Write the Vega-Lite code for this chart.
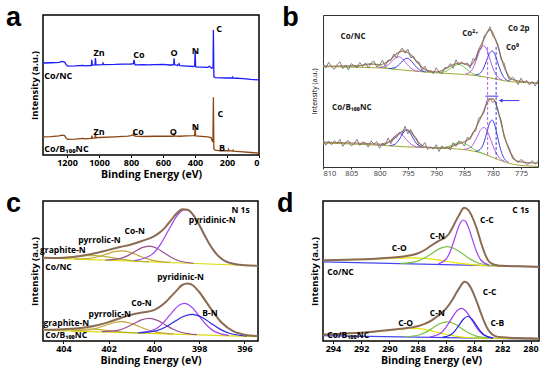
{
"$schema":"https://vega.github.io/schema/vega-lite/v6.json",
"background":"white",
"padding":{"left":5,"top":3,"right":0,"bottom":0},
"columns":2,
"spacing":{"row":34,"column":64},
"bounds":"flush",
"resolve":{"scale":{"color":"independent"}},
"config":{
 "view":{"stroke":"black","strokeWidth":1.5},
 "font":"Open Sans",
 "axis":{"domain":false,"grid":false,"tickColor":"black","labelColor":"black","titleColor":"black","labelFontWeight":"bold","titleFontWeight":"bold","labelFontSize":9,"titleFontSize":10.5,"tickSize":2.5,"labelPadding":0.5,"titlePadding":2.5,"labelFont":"Open Sans","titleFont":"Open Sans"},
 "axisY":{"labels":false,"ticks":false,"titlePadding":4,"titleFontSize":9.5}
},
"concat":[
{
 "width":216,"height":140,
 "data":{"values":[
{"e":1350,"v":65.7,"s":"u"},{"e":1300,"v":65.9,"s":"u"},{"e":1250,"v":66.2,"s":"u"},{"e":1230,"v":66.8,"s":"u"},{"e":1215,"v":66.4,"s":"u"},{"e":1205,"v":64.5,"s":"u"},{"e":1195,"v":63.5,"s":"u"},{"e":1150,"v":63.6,"s":"u"},{"e":1100,"v":64.0,"s":"u"},{"e":1090,"v":63.6,"s":"u"},{"e":1060,"v":63.9,"s":"u"},{"e":1048,"v":63.9,"s":"u"},{"e":1045,"v":68.0,"s":"u"},{"e":1042,"v":64.2,"s":"u"},{"e":1025,"v":64.3,"s":"u"},{"e":1022,"v":69.3,"s":"u"},{"e":1019,"v":64.5,"s":"u"},{"e":1000,"v":64.4,"s":"u"},{"e":978,"v":64.6,"s":"u"},{"e":975,"v":65.6,"s":"u"},{"e":972,"v":64.6,"s":"u"},{"e":900,"v":64.7,"s":"u"},{"e":850,"v":64.9,"s":"u"},{"e":800,"v":65.0,"s":"u"},{"e":785,"v":65.2,"s":"u"},{"e":781,"v":67.9,"s":"u"},{"e":778,"v":65.8,"s":"u"},{"e":775,"v":64.4,"s":"u"},{"e":720,"v":64.6,"s":"u"},{"e":700,"v":64.4,"s":"u"},{"e":650,"v":64.6,"s":"u"},{"e":600,"v":64.8,"s":"u"},{"e":560,"v":64.3,"s":"u"},{"e":540,"v":64.3,"s":"u"},{"e":533,"v":64.6,"s":"u"},{"e":531,"v":69.0,"s":"u"},{"e":528,"v":64.6,"s":"u"},{"e":510,"v":63.9,"s":"u"},{"e":500,"v":65.2,"s":"u"},{"e":496,"v":63.9,"s":"u"},{"e":450,"v":63.5,"s":"u"},{"e":410,"v":63.2,"s":"u"},{"e":402,"v":63.5,"s":"u"},{"e":399,"v":74.3,"s":"u"},{"e":396,"v":63.0,"s":"u"},{"e":360,"v":62.8,"s":"u"},{"e":320,"v":62.6,"s":"u"},{"e":310,"v":63.4,"s":"u"},{"e":295,"v":62.0,"s":"u"},{"e":287,"v":62.5,"s":"u"},{"e":285,"v":89.3,"s":"u"},{"e":282,"v":56.0,"s":"u"},{"e":275,"v":55.3,"s":"u"},{"e":200,"v":55.0,"s":"u"},{"e":168,"v":55.0,"s":"u"},{"e":165,"v":55.6,"s":"u"},{"e":162,"v":55.0,"s":"u"},{"e":100,"v":54.6,"s":"u"},{"e":50,"v":54.0,"s":"u"},{"e":0,"v":53.6,"s":"u"},
{"e":1350,"v":12.9,"s":"l"},{"e":1300,"v":13.1,"s":"l"},{"e":1250,"v":13.6,"s":"l"},{"e":1230,"v":14.2,"s":"l"},{"e":1215,"v":13.8,"s":"l"},{"e":1205,"v":12.0,"s":"l"},{"e":1195,"v":11.1,"s":"l"},{"e":1150,"v":11.4,"s":"l"},{"e":1100,"v":11.9,"s":"l"},{"e":1090,"v":11.5,"s":"l"},{"e":1048,"v":11.9,"s":"l"},{"e":1045,"v":13.8,"s":"l"},{"e":1042,"v":12.0,"s":"l"},{"e":1025,"v":12.2,"s":"l"},{"e":1022,"v":15.9,"s":"l"},{"e":1019,"v":12.3,"s":"l"},{"e":1000,"v":12.5,"s":"l"},{"e":900,"v":13.0,"s":"l"},{"e":850,"v":13.3,"s":"l"},{"e":820,"v":13.5,"s":"l"},{"e":800,"v":13.8,"s":"l"},{"e":790,"v":14.3,"s":"l"},{"e":785,"v":14.0,"s":"l"},{"e":781,"v":16.5,"s":"l"},{"e":778,"v":14.6,"s":"l"},{"e":775,"v":13.4,"s":"l"},{"e":720,"v":13.2,"s":"l"},{"e":650,"v":13.4,"s":"l"},{"e":600,"v":13.5,"s":"l"},{"e":540,"v":13.4,"s":"l"},{"e":533,"v":13.6,"s":"l"},{"e":531,"v":15.8,"s":"l"},{"e":528,"v":13.6,"s":"l"},{"e":500,"v":13.4,"s":"l"},{"e":450,"v":13.6,"s":"l"},{"e":410,"v":13.8,"s":"l"},{"e":402,"v":14.0,"s":"l"},{"e":399,"v":21.2,"s":"l"},{"e":396,"v":13.6,"s":"l"},{"e":360,"v":13.3,"s":"l"},{"e":320,"v":13.0,"s":"l"},{"e":300,"v":12.5,"s":"l"},{"e":295,"v":10.5,"s":"l"},{"e":288,"v":9.5,"s":"l"},{"e":285,"v":41.2,"s":"l"},{"e":282,"v":4.5,"s":"l"},{"e":275,"v":3.5,"s":"l"},{"e":240,"v":3.0,"s":"l"},{"e":192,"v":3.2,"s":"l"},{"e":190,"v":4.0,"s":"l"},{"e":188,"v":3.1,"s":"l"},{"e":165,"v":2.8,"s":"l"},{"e":162,"v":3.4,"s":"l"},{"e":159,"v":2.7,"s":"l"},{"e":100,"v":2.2,"s":"l"},{"e":50,"v":1.8,"s":"l"},{"e":0,"v":1.3,"s":"l"}
 ]},
 "encoding":{
  "x":{"field":"e","type":"quantitative","scale":{"domain":[0,1350],"reverse":true,"nice":false,"zero":false},"axis":{"values":[0,200,400,600,800,1000,1200],"format":"d","title":"Binding Energy (eV)"}},
  "y":{"field":"v","type":"quantitative","scale":{"domain":[0,100],"nice":false,"zero":false},"axis":{"title":"Intensity (a.u.)"}}
 },
 "layer":[
  {"mark":{"type":"line","strokeWidth":1.3,"clip":true},"encoding":{"color":{"field":"s","type":"nominal","scale":{"domain":["u","l"],"range":["#1a1aff","#8b4513"]},"legend":null}}},
  {"data":{"values":[{"e":1000,"v":72.9,"t":"Zn"},{"e":750,"v":71.4,"t":"Co"},{"e":531,"v":72.9,"t":"O"},{"e":397,"v":74.3,"t":"N"},{"e":250,"v":90,"t":"C"},{"e":1000,"v":16.6,"t":"Zn"},{"e":755,"v":16.6,"t":"Co"},{"e":536,"v":16.6,"t":"O"},{"e":398,"v":20.0,"t":"N"},{"e":242,"v":29.5,"t":"C"},{"e":231,"v":5.2,"t":"B"}]},
   "mark":{"type":"text","align":"center","baseline":"middle","fontSize":9,"fontWeight":"bold","font":"Open Sans","color":"black"},"encoding":{"text":{"field":"t"}}},
  {"data":{"values":[{"e":1342,"v":56.4,"t":"Co/NC"},{"e":1342,"v":4.0,"t":"Co/B₁₀₀NC"}]},
   "mark":{"type":"text","align":"left","baseline":"middle","fontSize":9,"fontWeight":"bold","font":"Open Sans","color":"black"},"encoding":{"text":{"field":"t"}}},
  {"data":{"values":[{"e":1581,"v":92.1,"t":"a"}]},
   "mark":{"type":"text","align":"left","baseline":"alphabetic","fontSize":27,"fontWeight":"bold","font":"Liberation Sans","color":"black"},"encoding":{"text":{"field":"t"}}}
 ]
},
{
 "width":215,"height":152,
 "view":{"stroke":"#333","strokeWidth":1},
 "data":{"values":[
{"e":810,"v":66.0,"id":"ubase","k":"base"},{"e":800,"v":65.2,"id":"ubase","k":"base"},{"e":796,"v":63.8,"id":"ubase","k":"base"},{"e":792,"v":62.5,"id":"ubase","k":"base"},{"e":787,"v":61.3,"id":"ubase","k":"base"},{"e":783,"v":60.2,"id":"ubase","k":"base"},{"e":781,"v":59.0,"id":"ubase","k":"base"},{"e":779,"v":57.5,"id":"ubase","k":"base"},{"e":777,"v":56.2,"id":"ubase","k":"base"},{"e":774,"v":55.5,"id":"ubase","k":"base"},{"e":772,"v":55.3,"id":"ubase","k":"base"},
{"e":806,"v":65.71,"id":"us1","k":"sat"},{"e":804.5,"v":65.9,"id":"us1","k":"sat"},{"e":803.75,"v":66.31,"id":"us1","k":"sat"},{"e":803,"v":66.96,"id":"us1","k":"sat"},{"e":802.25,"v":67.59,"id":"us1","k":"sat"},{"e":801.5,"v":67.82,"id":"us1","k":"sat"},{"e":800.75,"v":67.47,"id":"us1","k":"sat"},{"e":800,"v":66.72,"id":"us1","k":"sat"},{"e":799.25,"v":65.75,"id":"us1","k":"sat"},{"e":798.5,"v":65.02,"id":"us1","k":"sat"},{"e":797,"v":64.18,"id":"us1","k":"sat"},
{"e":800.2,"v":65.31,"id":"up1","k":"co2"},{"e":799,"v":66.0,"id":"up1","k":"co2"},{"e":798.4,"v":67.4,"id":"up1","k":"co2"},{"e":797.8,"v":69.59,"id":"up1","k":"co2"},{"e":797.2,"v":71.72,"id":"up1","k":"co2"},{"e":796.6,"v":72.51,"id":"up1","k":"co2"},{"e":796,"v":71.3,"id":"up1","k":"co2"},{"e":795.4,"v":68.76,"id":"up1","k":"co2"},{"e":794.8,"v":66.17,"id":"up1","k":"co2"},{"e":794.2,"v":64.37,"id":"up1","k":"co2"},{"e":793,"v":62.92,"id":"up1","k":"co2"},
{"e":798.4,"v":64.73,"id":"ub1","k":"co0"},{"e":797.3,"v":65.34,"id":"ub1","k":"co0"},{"e":796.75,"v":66.66,"id":"ub1","k":"co0"},{"e":796.2,"v":68.72,"id":"ub1","k":"co0"},{"e":795.65,"v":70.75,"id":"ub1","k":"co0"},{"e":795.1,"v":71.51,"id":"ub1","k":"co0"},{"e":794.55,"v":70.39,"id":"ub1","k":"co0"},{"e":794,"v":68.0,"id":"ub1","k":"co0"},{"e":793.45,"v":65.57,"id":"ub1","k":"co0"},{"e":792.9,"v":63.87,"id":"ub1","k":"co0"},{"e":791.8,"v":62.54,"id":"ub1","k":"co0"},
{"e":789.9,"v":62.07,"id":"us2","k":"sat"},{"e":788.6,"v":62.56,"id":"us2","k":"sat"},{"e":787.95,"v":63.64,"id":"us2","k":"sat"},{"e":787.3,"v":65.31,"id":"us2","k":"sat"},{"e":786.65,"v":66.94,"id":"us2","k":"sat"},{"e":786,"v":67.53,"id":"us2","k":"sat"},{"e":785.35,"v":66.59,"id":"us2","k":"sat"},{"e":784.7,"v":64.61,"id":"us2","k":"sat"},{"e":784.05,"v":62.6,"id":"us2","k":"sat"},{"e":783.4,"v":61.19,"id":"us2","k":"sat"},{"e":782.1,"v":59.73,"id":"us2","k":"sat"},
{"e":784.9,"v":60.95,"id":"up2","k":"co2"},{"e":783.8,"v":63.19,"id":"up2","k":"co2"},{"e":783.25,"v":66.93,"id":"up2","k":"co2"},{"e":782.7,"v":72.45,"id":"up2","k":"co2"},{"e":782.15,"v":77.78,"id":"up2","k":"co2"},{"e":781.6,"v":79.86,"id":"up2","k":"co2"},{"e":781.05,"v":77.12,"id":"up2","k":"co2"},{"e":780.5,"v":71.06,"id":"up2","k":"co2"},{"e":779.95,"v":64.87,"id":"up2","k":"co2"},{"e":779.4,"v":60.57,"id":"up2","k":"co2"},{"e":778.3,"v":57.28,"id":"up2","k":"co2"},
{"e":783.1,"v":60.43,"id":"ub2","k":"co0"},{"e":782.1,"v":62.1,"id":"ub2","k":"co0"},{"e":781.6,"v":65.2,"id":"ub2","k":"co0"},{"e":781.1,"v":69.98,"id":"ub2","k":"co0"},{"e":780.6,"v":74.59,"id":"ub2","k":"co0"},{"e":780.1,"v":76.33,"id":"ub2","k":"co0"},{"e":779.6,"v":73.84,"id":"ub2","k":"co0"},{"e":779.1,"v":68.5,"id":"ub2","k":"co0"},{"e":778.6,"v":63.08,"id":"ub2","k":"co0"},{"e":778.1,"v":59.36,"id":"ub2","k":"co0"},{"e":777.1,"v":56.47,"id":"ub2","k":"co0"},
{"e":810,"v":15.8,"id":"lbase","k":"base"},{"e":800,"v":14.3,"id":"lbase","k":"base"},{"e":795,"v":13.2,"id":"lbase","k":"base"},{"e":790,"v":12.5,"id":"lbase","k":"base"},{"e":785,"v":11.4,"id":"lbase","k":"base"},{"e":782,"v":9.2,"id":"lbase","k":"base"},{"e":779,"v":4.8,"id":"lbase","k":"base"},{"e":776,"v":1.5,"id":"lbase","k":"base"},{"e":772,"v":0.4,"id":"lbase","k":"base"},
{"e":800.1,"v":14.41,"id":"lp1","k":"co2"},{"e":798.9,"v":15.18,"id":"lp1","k":"co2"},{"e":798.3,"v":16.63,"id":"lp1","k":"co2"},{"e":797.7,"v":18.82,"id":"lp1","k":"co2"},{"e":797.1,"v":20.98,"id":"lp1","k":"co2"},{"e":796.5,"v":21.83,"id":"lp1","k":"co2"},{"e":795.9,"v":20.72,"id":"lp1","k":"co2"},{"e":795.3,"v":18.3,"id":"lp1","k":"co2"},{"e":794.7,"v":15.86,"id":"lp1","k":"co2"},{"e":794.1,"v":14.19,"id":"lp1","k":"co2"},{"e":792.9,"v":13.0,"id":"lp1","k":"co2"},
{"e":798.2,"v":14.02,"id":"lb1","k":"co0"},{"e":797.2,"v":15.17,"id":"lb1","k":"co0"},{"e":796.7,"v":17.14,"id":"lb1","k":"co0"},{"e":796.2,"v":20.13,"id":"lb1","k":"co0"},{"e":795.7,"v":23.06,"id":"lb1","k":"co0"},{"e":795.2,"v":24.24,"id":"lb1","k":"co0"},{"e":794.7,"v":22.87,"id":"lb1","k":"co0"},{"e":794.2,"v":19.76,"id":"lb1","k":"co0"},{"e":793.7,"v":16.59,"id":"lb1","k":"co0"},{"e":793.2,"v":14.44,"id":"lb1","k":"co0"},{"e":792.2,"v":12.93,"id":"lb1","k":"co0"},
{"e":790,"v":12.55,"id":"ls2","k":"sat"},{"e":788.5,"v":12.9,"id":"ls2","k":"sat"},{"e":787.75,"v":13.65,"id":"ls2","k":"sat"},{"e":787,"v":14.81,"id":"ls2","k":"sat"},{"e":786.25,"v":15.95,"id":"ls2","k":"sat"},{"e":785.5,"v":16.37,"id":"ls2","k":"sat"},{"e":784.75,"v":15.19,"id":"ls2","k":"sat"},{"e":784,"v":13.4,"id":"ls2","k":"sat"},{"e":783.25,"v":11.58,"id":"ls2","k":"sat"},{"e":782.5,"v":10.18,"id":"ls2","k":"sat"},{"e":781,"v":7.78,"id":"ls2","k":"sat"},
{"e":785.1,"v":11.61,"id":"lp2","k":"co2"},{"e":783.9,"v":12.96,"id":"lp2","k":"co2"},{"e":783.3,"v":15.83,"id":"lp2","k":"co2"},{"e":782.7,"v":20.32,"id":"lp2","k":"co2"},{"e":782.1,"v":24.71,"id":"lp2","k":"co2"},{"e":781.5,"v":25.97,"id":"lp2","k":"co2"},{"e":780.9,"v":23.03,"id":"lp2","k":"co2"},{"e":780.3,"v":17.32,"id":"lp2","k":"co2"},{"e":779.7,"v":11.51,"id":"lp2","k":"co2"},{"e":779.1,"v":7.32,"id":"lp2","k":"co2"},{"e":777.9,"v":3.78,"id":"lp2","k":"co2"},
{"e":782.95,"v":10.17,"id":"lb2","k":"co0"},{"e":782,"v":12.51,"id":"lb2","k":"co0"},{"e":781.525,"v":16.46,"id":"lb2","k":"co0"},{"e":781.05,"v":22.67,"id":"lb2","k":"co0"},{"e":780.575,"v":28.73,"id":"lb2","k":"co0"},{"e":780.1,"v":30.91,"id":"lb2","k":"co0"},{"e":779.625,"v":27.34,"id":"lb2","k":"co0"},{"e":779.15,"v":19.88,"id":"lb2","k":"co0"},{"e":778.675,"v":12.4,"id":"lb2","k":"co0"},{"e":778.2,"v":7.23,"id":"lb2","k":"co0"},{"e":777.25,"v":3.14,"id":"lb2","k":"co0"},
{"e":810,"v":66.4,"id":"ue","k":"env"},{"e":808,"v":66.4,"id":"ue","k":"env"},{"e":806,"v":66.5,"id":"ue","k":"env"},{"e":804,"v":66.6,"id":"ue","k":"env"},{"e":803,"v":66.9,"id":"ue","k":"env"},{"e":802,"v":67.6,"id":"ue","k":"env"},{"e":801,"v":67.7,"id":"ue","k":"env"},{"e":800,"v":67.2,"id":"ue","k":"env"},{"e":799.5,"v":67.6,"id":"ue","k":"env"},{"e":799,"v":68.4,"id":"ue","k":"env"},{"e":798.5,"v":69.5,"id":"ue","k":"env"},{"e":798,"v":70.8,"id":"ue","k":"env"},{"e":797.5,"v":72.6,"id":"ue","k":"env"},{"e":797,"v":74.5,"id":"ue","k":"env"},{"e":796.5,"v":75.6,"id":"ue","k":"env"},{"e":796,"v":76.3,"id":"ue","k":"env"},{"e":795.5,"v":76.0,"id":"ue","k":"env"},{"e":795,"v":75.2,"id":"ue","k":"env"},{"e":794.5,"v":73.8,"id":"ue","k":"env"},{"e":794,"v":71.9,"id":"ue","k":"env"},{"e":793.5,"v":69.6,"id":"ue","k":"env"},{"e":793,"v":67.5,"id":"ue","k":"env"},{"e":792.5,"v":65.6,"id":"ue","k":"env"},{"e":792,"v":64.2,"id":"ue","k":"env"},{"e":791,"v":63.0,"id":"ue","k":"env"},{"e":790,"v":62.6,"id":"ue","k":"env"},{"e":789,"v":63.4,"id":"ue","k":"env"},{"e":788,"v":65.3,"id":"ue","k":"env"},{"e":787,"v":67.4,"id":"ue","k":"env"},{"e":786,"v":68.4,"id":"ue","k":"env"},{"e":785,"v":68.0,"id":"ue","k":"env"},{"e":784.5,"v":67.2,"id":"ue","k":"env"},{"e":784,"v":66.8,"id":"ue","k":"env"},{"e":783.5,"v":68.4,"id":"ue","k":"env"},{"e":783,"v":71.5,"id":"ue","k":"env"},{"e":782.5,"v":76.8,"id":"ue","k":"env"},{"e":782,"v":80.7,"id":"ue","k":"env"},{"e":781.5,"v":84.5,"id":"ue","k":"env"},{"e":781,"v":88.4,"id":"ue","k":"env"},{"e":780.5,"v":90.3,"id":"ue","k":"env"},{"e":780,"v":88.4,"id":"ue","k":"env"},{"e":779.5,"v":83.5,"id":"ue","k":"env"},{"e":779,"v":78.5,"id":"ue","k":"env"},{"e":778.5,"v":71.9,"id":"ue","k":"env"},{"e":778,"v":66.0,"id":"ue","k":"env"},{"e":777.5,"v":62.0,"id":"ue","k":"env"},{"e":777,"v":58.7,"id":"ue","k":"env"},{"e":776.5,"v":57.6,"id":"ue","k":"env"},{"e":776,"v":57.0,"id":"ue","k":"env"},{"e":775,"v":56.3,"id":"ue","k":"env"},{"e":774,"v":55.8,"id":"ue","k":"env"},{"e":773,"v":55.4,"id":"ue","k":"env"},{"e":772,"v":55.2,"id":"ue","k":"env"},
{"e":810,"v":16.3,"id":"le","k":"env"},{"e":808,"v":16.1,"id":"le","k":"env"},{"e":806,"v":15.9,"id":"le","k":"env"},{"e":804,"v":15.7,"id":"le","k":"env"},{"e":802,"v":15.3,"id":"le","k":"env"},{"e":800,"v":15.0,"id":"le","k":"env"},{"e":799.5,"v":15.2,"id":"le","k":"env"},{"e":799,"v":15.6,"id":"le","k":"env"},{"e":798.5,"v":16.2,"id":"le","k":"env"},{"e":798,"v":17.0,"id":"le","k":"env"},{"e":797.5,"v":18.4,"id":"le","k":"env"},{"e":797,"v":20.2,"id":"le","k":"env"},{"e":796.5,"v":22.0,"id":"le","k":"env"},{"e":796,"v":23.5,"id":"le","k":"env"},{"e":795.5,"v":24.4,"id":"le","k":"env"},{"e":795,"v":24.4,"id":"le","k":"env"},{"e":794.5,"v":23.1,"id":"le","k":"env"},{"e":794,"v":20.8,"id":"le","k":"env"},{"e":793.5,"v":18.0,"id":"le","k":"env"},{"e":793,"v":15.8,"id":"le","k":"env"},{"e":792.5,"v":14.3,"id":"le","k":"env"},{"e":792,"v":13.4,"id":"le","k":"env"},{"e":791,"v":12.8,"id":"le","k":"env"},{"e":790,"v":12.5,"id":"le","k":"env"},{"e":789,"v":12.5,"id":"le","k":"env"},{"e":788,"v":12.6,"id":"le","k":"env"},{"e":787.5,"v":13.0,"id":"le","k":"env"},{"e":787,"v":13.8,"id":"le","k":"env"},{"e":786.5,"v":14.7,"id":"le","k":"env"},{"e":786,"v":15.3,"id":"le","k":"env"},{"e":785.5,"v":15.8,"id":"le","k":"env"},{"e":785,"v":16.6,"id":"le","k":"env"},{"e":784.5,"v":17.7,"id":"le","k":"env"},{"e":784,"v":19.1,"id":"le","k":"env"},{"e":783.5,"v":22.0,"id":"le","k":"env"},{"e":783,"v":25.7,"id":"le","k":"env"},{"e":782.5,"v":29.5,"id":"le","k":"env"},{"e":782,"v":33.4,"id":"le","k":"env"},{"e":781.5,"v":37.9,"id":"le","k":"env"},{"e":781,"v":42.2,"id":"le","k":"env"},{"e":780.5,"v":44.5,"id":"le","k":"env"},{"e":780,"v":44.9,"id":"le","k":"env"},{"e":779.5,"v":42.2,"id":"le","k":"env"},{"e":779,"v":36.2,"id":"le","k":"env"},{"e":778.5,"v":28.5,"id":"le","k":"env"},{"e":778,"v":21.3,"id":"le","k":"env"},{"e":777.5,"v":15.2,"id":"le","k":"env"},{"e":777,"v":10.3,"id":"le","k":"env"},{"e":776.5,"v":7.2,"id":"le","k":"env"},{"e":776,"v":4.5,"id":"le","k":"env"},{"e":775.5,"v":3.8,"id":"le","k":"env"},{"e":775,"v":3.3,"id":"le","k":"env"},{"e":774,"v":2.9,"id":"le","k":"env"},{"e":773,"v":2.7,"id":"le","k":"env"},{"e":772,"v":2.6,"id":"le","k":"env"},
{"e":810,"v":68.2,"id":"ud","k":"dat"},{"e":809.5,"v":65.2,"id":"ud","k":"dat"},{"e":809,"v":68.9,"id":"ud","k":"dat"},{"e":808.5,"v":65.9,"id":"ud","k":"dat"},{"e":808,"v":64.2,"id":"ud","k":"dat"},{"e":807.5,"v":67.4,"id":"ud","k":"dat"},{"e":807,"v":69.2,"id":"ud","k":"dat"},{"e":806.5,"v":64.7,"id":"ud","k":"dat"},{"e":806,"v":66.9,"id":"ud","k":"dat"},{"e":805.5,"v":63.9,"id":"ud","k":"dat"},{"e":805,"v":68.0,"id":"ud","k":"dat"},{"e":804.5,"v":66.7,"id":"ud","k":"dat"},{"e":804,"v":65.2,"id":"ud","k":"dat"},{"e":803.5,"v":68.8,"id":"ud","k":"dat"},{"e":803,"v":66.1,"id":"ud","k":"dat"},{"e":802.5,"v":68.5,"id":"ud","k":"dat"},{"e":802,"v":65.2,"id":"ud","k":"dat"},{"e":801.5,"v":68.4,"id":"ud","k":"dat"},{"e":801,"v":69.7,"id":"ud","k":"dat"},{"e":800.5,"v":65.8,"id":"ud","k":"dat"},{"e":800,"v":67.0,"id":"ud","k":"dat"},{"e":799.5,"v":70.2,"id":"ud","k":"dat"},{"e":799,"v":66.4,"id":"ud","k":"dat"},{"e":798.5,"v":70.4,"id":"ud","k":"dat"},{"e":798,"v":70.2,"id":"ud","k":"dat"},{"e":797.5,"v":74.3,"id":"ud","k":"dat"},{"e":797,"v":71.7,"id":"ud","k":"dat"},{"e":796.5,"v":75.9,"id":"ud","k":"dat"},{"e":796,"v":78.2,"id":"ud","k":"dat"},{"e":795.5,"v":74.9,"id":"ud","k":"dat"},{"e":795,"v":77.5,"id":"ud","k":"dat"},{"e":794.5,"v":71.9,"id":"ud","k":"dat"},{"e":794,"v":72.6,"id":"ud","k":"dat"},{"e":793.5,"v":69.3,"id":"ud","k":"dat"},{"e":793,"v":68.9,"id":"ud","k":"dat"},{"e":792.5,"v":63.3,"id":"ud","k":"dat"},{"e":792,"v":66.3,"id":"ud","k":"dat"},{"e":791.5,"v":62.5,"id":"ud","k":"dat"},{"e":791,"v":63.5,"id":"ud","k":"dat"},{"e":790.5,"v":61.3,"id":"ud","k":"dat"},{"e":790,"v":65.3,"id":"ud","k":"dat"},{"e":789.5,"v":62.4,"id":"ud","k":"dat"},{"e":789,"v":61.3,"id":"ud","k":"dat"},{"e":788.5,"v":65.4,"id":"ud","k":"dat"},{"e":788,"v":65.3,"id":"ud","k":"dat"},{"e":787.5,"v":68.0,"id":"ud","k":"dat"},{"e":787,"v":64.9,"id":"ud","k":"dat"},{"e":786.5,"v":70.5,"id":"ud","k":"dat"},{"e":786,"v":67.1,"id":"ud","k":"dat"},{"e":785.5,"v":69.3,"id":"ud","k":"dat"},{"e":785,"v":67.3,"id":"ud","k":"dat"},{"e":784.5,"v":68.5,"id":"ud","k":"dat"},{"e":784,"v":65.1,"id":"ud","k":"dat"},{"e":783.5,"v":71.3,"id":"ud","k":"dat"},{"e":783,"v":70.5,"id":"ud","k":"dat"},{"e":782.5,"v":76.9,"id":"ud","k":"dat"},{"e":782,"v":78.0,"id":"ud","k":"dat"},{"e":781.5,"v":86.3,"id":"ud","k":"dat"},{"e":781,"v":88.3,"id":"ud","k":"dat"},{"e":780.5,"v":92.3,"id":"ud","k":"dat"},{"e":780,"v":86.2,"id":"ud","k":"dat"},{"e":779.5,"v":84.1,"id":"ud","k":"dat"},{"e":779,"v":79.5,"id":"ud","k":"dat"},{"e":778.5,"v":70.5,"id":"ud","k":"dat"},{"e":778,"v":68.5,"id":"ud","k":"dat"},{"e":777.5,"v":61.2,"id":"ud","k":"dat"},{"e":777,"v":56.8,"id":"ud","k":"dat"},{"e":776.5,"v":59.1,"id":"ud","k":"dat"},{"e":776,"v":57.4,"id":"ud","k":"dat"},{"e":775.5,"v":54.2,"id":"ud","k":"dat"},{"e":775,"v":58.5,"id":"ud","k":"dat"},{"e":774.5,"v":55.5,"id":"ud","k":"dat"},{"e":774,"v":57.0,"id":"ud","k":"dat"},{"e":773.5,"v":54.0,"id":"ud","k":"dat"},{"e":773,"v":56.3,"id":"ud","k":"dat"},{"e":772.5,"v":53.3,"id":"ud","k":"dat"},{"e":772,"v":56.9,"id":"ud","k":"dat"},
{"e":810,"v":18.0,"id":"ld","k":"dat"},{"e":809.5,"v":14.3,"id":"ld","k":"dat"},{"e":809,"v":17.1,"id":"ld","k":"dat"},{"e":808.5,"v":14.6,"id":"ld","k":"dat"},{"e":808,"v":17.3,"id":"ld","k":"dat"},{"e":807.5,"v":15.6,"id":"ld","k":"dat"},{"e":807,"v":18.2,"id":"ld","k":"dat"},{"e":806.5,"v":13.6,"id":"ld","k":"dat"},{"e":806,"v":16.3,"id":"ld","k":"dat"},{"e":805.5,"v":17.4,"id":"ld","k":"dat"},{"e":805,"v":13.9,"id":"ld","k":"dat"},{"e":804.5,"v":15.0,"id":"ld","k":"dat"},{"e":804,"v":18.2,"id":"ld","k":"dat"},{"e":803.5,"v":14.2,"id":"ld","k":"dat"},{"e":803,"v":16.5,"id":"ld","k":"dat"},{"e":802.5,"v":16.0,"id":"ld","k":"dat"},{"e":802,"v":13.1,"id":"ld","k":"dat"},{"e":801.5,"v":17.2,"id":"ld","k":"dat"},{"e":801,"v":15.0,"id":"ld","k":"dat"},{"e":800.5,"v":16.8,"id":"ld","k":"dat"},{"e":800,"v":12.3,"id":"ld","k":"dat"},{"e":799.5,"v":15.3,"id":"ld","k":"dat"},{"e":799,"v":14.6,"id":"ld","k":"dat"},{"e":798.5,"v":19.1,"id":"ld","k":"dat"},{"e":798,"v":15.3,"id":"ld","k":"dat"},{"e":797.5,"v":19.7,"id":"ld","k":"dat"},{"e":797,"v":19.5,"id":"ld","k":"dat"},{"e":796.5,"v":22.8,"id":"ld","k":"dat"},{"e":796,"v":22.2,"id":"ld","k":"dat"},{"e":795.5,"v":26.8,"id":"ld","k":"dat"},{"e":795,"v":21.9,"id":"ld","k":"dat"},{"e":794.5,"v":24.7,"id":"ld","k":"dat"},{"e":794,"v":20.8,"id":"ld","k":"dat"},{"e":793.5,"v":19.1,"id":"ld","k":"dat"},{"e":793,"v":13.7,"id":"ld","k":"dat"},{"e":792.5,"v":13.9,"id":"ld","k":"dat"},{"e":792,"v":16.1,"id":"ld","k":"dat"},{"e":791.5,"v":11.5,"id":"ld","k":"dat"},{"e":791,"v":13.3,"id":"ld","k":"dat"},{"e":790.5,"v":11.7,"id":"ld","k":"dat"},{"e":790,"v":14.6,"id":"ld","k":"dat"},{"e":789.5,"v":10.2,"id":"ld","k":"dat"},{"e":789,"v":13.9,"id":"ld","k":"dat"},{"e":788.5,"v":12.2,"id":"ld","k":"dat"},{"e":788,"v":13.3,"id":"ld","k":"dat"},{"e":787.5,"v":11.1,"id":"ld","k":"dat"},{"e":787,"v":16.1,"id":"ld","k":"dat"},{"e":786.5,"v":13.6,"id":"ld","k":"dat"},{"e":786,"v":17.2,"id":"ld","k":"dat"},{"e":785.5,"v":16.1,"id":"ld","k":"dat"},{"e":785,"v":13.8,"id":"ld","k":"dat"},{"e":784.5,"v":19.4,"id":"ld","k":"dat"},{"e":784,"v":18.5,"id":"ld","k":"dat"},{"e":783.5,"v":22.9,"id":"ld","k":"dat"},{"e":783,"v":23.7,"id":"ld","k":"dat"},{"e":782.5,"v":32.1,"id":"ld","k":"dat"},{"e":782,"v":33.2,"id":"ld","k":"dat"},{"e":781.5,"v":36.3,"id":"ld","k":"dat"},{"e":781,"v":44.2,"id":"ld","k":"dat"},{"e":780.5,"v":45.1,"id":"ld","k":"dat"},{"e":780,"v":42.5,"id":"ld","k":"dat"},{"e":779.5,"v":43.4,"id":"ld","k":"dat"},{"e":779,"v":35.4,"id":"ld","k":"dat"},{"e":778.5,"v":30.7,"id":"ld","k":"dat"},{"e":778,"v":19.9,"id":"ld","k":"dat"},{"e":777.5,"v":15.4,"id":"ld","k":"dat"},{"e":777,"v":11.8,"id":"ld","k":"dat"},{"e":776.5,"v":5.6,"id":"ld","k":"dat"},{"e":776,"v":4.7,"id":"ld","k":"dat"},{"e":775.5,"v":2.7,"id":"ld","k":"dat"},{"e":775,"v":5.0,"id":"ld","k":"dat"},{"e":774.5,"v":3.6,"id":"ld","k":"dat"},{"e":774,"v":1.6,"id":"ld","k":"dat"},{"e":773.5,"v":2.5,"id":"ld","k":"dat"},{"e":773,"v":4.2,"id":"ld","k":"dat"},{"e":772.5,"v":1.9,"id":"ld","k":"dat"},{"e":772,"v":3.7,"id":"ld","k":"dat"}
 ]},
 "encoding":{
  "x":{"field":"e","type":"quantitative","scale":{"domain":[772,810],"reverse":true,"nice":false,"zero":false},"axis":{"values":[775,780,785,790,795,800,805,810],"title":null,"labelFontWeight":"normal","labelFontSize":7.5,"labelColor":"#333","tickColor":"#333","tickSize":2}},
  "y":{"field":"v","type":"quantitative","scale":{"domain":[0,100],"nice":false,"zero":false},"axis":{"title":"Intensity (a.u.)","titleFontWeight":"normal","titleFontSize":7,"titlePadding":6}}
 },
 "layer":[
  {"transform":[{"filter":"datum.k=='base'||datum.k=='sat'||datum.k=='co2'||datum.k=='co0'"}],"mark":{"type":"line","interpolate":"monotone","strokeWidth":1,"clip":true},"encoding":{"color":{"field":"k","type":"nominal","scale":{"domain":["base","sat","co2","co0"],"range":["#a3a832","#78c850","#b45ae6","#3c3ce6"]},"legend":null},"detail":{"field":"id"}}},
  {"transform":[{"filter":"datum.k=='env'"}],"mark":{"type":"line","interpolate":"monotone","strokeWidth":1.3,"color":"#b08468","clip":true},"encoding":{"detail":{"field":"id"}}},
  {"transform":[{"filter":"datum.k=='dat'"}],"mark":{"type":"line","strokeWidth":0.8,"color":"#666666","clip":true},"encoding":{"detail":{"field":"id"}}},
  {"data":{"values":[{"e":780.9,"v":79,"v2":7,"k":"co2"},{"e":779.4,"v":79,"v2":5.5,"k":"co0"}]},"mark":{"type":"rule","strokeDash":[3,2],"strokeWidth":1},"encoding":{"y2":{"field":"v2"},"color":{"field":"k","type":"nominal","legend":null}}},
  {"data":{"values":[{"e":781.3,"e2":779.0,"v":46.6},{"e":775.3,"e2":778.4,"v":43.7}]},"mark":{"type":"rule","color":"#3c3ce6","strokeWidth":1},"encoding":{"x2":{"field":"e2"}}},
  {"data":{"values":[{"e":778.6,"v":43.7}]},"mark":{"type":"point","shape":"triangle-left","filled":true,"size":18,"color":"#3c3ce6","opacity":1}},
  {"data":{"values":[{"e":784.0,"v":87.3,"t":"Co²⁺"},{"e":775.4,"v":91.0,"t":"Co 2p"},{"e":776.5,"v":78.5,"t":"Co⁰"}]},
   "mark":{"type":"text","align":"center","baseline":"middle","fontSize":8,"fontWeight":"bold","font":"Open Sans","color":"#222"},"encoding":{"text":{"field":"t"}}},
  {"data":{"values":[{"e":806.9,"v":85.7,"t":"Co/NC"},{"e":808.4,"v":38.5,"t":"Co/B₁₀₀NC"}]},
   "mark":{"type":"text","align":"left","baseline":"middle","fontSize":8,"fontWeight":"bold","font":"Open Sans","color":"#222"},"encoding":{"text":{"field":"t"}}},
  {"data":{"values":[{"e":817.2,"v":92.8,"t":"b"}]},
   "mark":{"type":"text","align":"left","baseline":"alphabetic","fontSize":27,"fontWeight":"bold","font":"Liberation Sans","color":"black"},"encoding":{"text":{"field":"t"}}}
 ]
},
{
 "width":215,"height":140,
 "data":{"values":[
{"e":404.9,"v":59.4,"id":"ub","k":"base"},{"e":395.4,"v":53.7,"id":"ub","k":"base"},
{"e":404.9,"v":59.45,"id":"ugr","k":"gr"},{"e":404.2,"v":59.39,"id":"ugr","k":"gr"},{"e":403.8,"v":59.71,"id":"ugr","k":"gr"},{"e":403.4,"v":60.32,"id":"ugr","k":"gr"},{"e":403.0,"v":60.91,"id":"ugr","k":"gr"},{"e":402.6,"v":61.02,"id":"ugr","k":"gr"},{"e":402.2,"v":60.43,"id":"ugr","k":"gr"},{"e":401.8,"v":59.36,"id":"ugr","k":"gr"},{"e":401.4,"v":58.27,"id":"ugr","k":"gr"},{"e":401.0,"v":57.47,"id":"ugr","k":"gr"},{"e":400.2,"v":56.61,"id":"ugr","k":"gr"},
{"e":403.5,"v":58.64,"id":"upy","k":"py"},{"e":402.8,"v":59.1,"id":"upy","k":"py"},{"e":402.45,"v":60.24,"id":"upy","k":"py"},{"e":402.1,"v":62.03,"id":"upy","k":"py"},{"e":401.75,"v":63.78,"id":"upy","k":"py"},{"e":401.4,"v":64.4,"id":"upy","k":"py"},{"e":401.05,"v":63.36,"id":"upy","k":"py"},{"e":400.7,"v":61.19,"id":"upy","k":"py"},{"e":400.35,"v":58.98,"id":"upy","k":"py"},{"e":400.0,"v":57.42,"id":"upy","k":"py"},{"e":399.3,"v":56.12,"id":"upy","k":"py"},
{"e":402.15,"v":57.87,"id":"uco","k":"co"},{"e":401.5,"v":58.88,"id":"uco","k":"co"},{"e":401.175,"v":60.81,"id":"uco","k":"co"},{"e":400.85,"v":63.76,"id":"uco","k":"co"},{"e":400.525,"v":66.66,"id":"uco","k":"co"},{"e":400.2,"v":67.78,"id":"uco","k":"co"},{"e":399.875,"v":66.27,"id":"uco","k":"co"},{"e":399.55,"v":62.98,"id":"uco","k":"co"},{"e":399.225,"v":59.64,"id":"uco","k":"co"},{"e":398.9,"v":57.32,"id":"uco","k":"co"},{"e":398.25,"v":55.53,"id":"uco","k":"co"},
{"e":400.85,"v":57.39,"id":"upd","k":"pd"},{"e":400.1,"v":61.69,"id":"upd","k":"pd"},{"e":399.725,"v":68.7,"id":"upd","k":"pd"},{"e":399.35,"v":79.24,"id":"upd","k":"pd"},{"e":398.975,"v":89.56,"id":"upd","k":"pd"},{"e":398.7875,"v":92.75,"id":"upd","k":"pd"},{"e":398.6,"v":93.82,"id":"upd","k":"pd"},{"e":398.4125,"v":92.53,"id":"upd","k":"pd"},{"e":398.225,"v":89.11,"id":"upd","k":"pd"},{"e":397.85,"v":78.34,"id":"upd","k":"pd"},{"e":397.475,"v":67.35,"id":"upd","k":"pd"},{"e":397.1,"v":59.89,"id":"upd","k":"pd"},{"e":396.35,"v":54.69,"id":"upd","k":"pd"},
{"e":404.9,"v":59.45,"id":"ue","k":"env"},{"e":404.5,"v":59.34,"id":"ue","k":"env"},{"e":404.0,"v":59.51,"id":"ue","k":"env"},{"e":403.5,"v":60.23,"id":"ue","k":"env"},{"e":403.0,"v":61.43,"id":"ue","k":"env"},{"e":402.5,"v":63.05,"id":"ue","k":"env"},{"e":402.0,"v":65.08,"id":"ue","k":"env"},{"e":401.5,"v":67.08,"id":"ue","k":"env"},{"e":401.0,"v":68.98,"id":"ue","k":"env"},{"e":400.5,"v":71.58,"id":"ue","k":"env"},{"e":400.0,"v":74.78,"id":"ue","k":"env"},{"e":399.75,"v":77.4,"id":"ue","k":"env"},{"e":399.5,"v":81.21,"id":"ue","k":"env"},{"e":399.25,"v":86.1,"id":"ue","k":"env"},{"e":399.0,"v":91.04,"id":"ue","k":"env"},{"e":398.75,"v":94.08,"id":"ue","k":"env"},{"e":398.5,"v":93.78,"id":"ue","k":"env"},{"e":398.25,"v":89.78,"id":"ue","k":"env"},{"e":398.0,"v":83.03,"id":"ue","k":"env"},{"e":397.75,"v":75.2,"id":"ue","k":"env"},{"e":397.5,"v":67.98,"id":"ue","k":"env"},{"e":397.25,"v":62.4,"id":"ue","k":"env"},{"e":397.0,"v":58.59,"id":"ue","k":"env"},{"e":396.5,"v":55.12,"id":"ue","k":"env"},{"e":396.0,"v":54.15,"id":"ue","k":"env"},{"e":395.4,"v":53.7,"id":"ue","k":"env"},
{"e":404.9,"v":7.8,"id":"lb","k":"base"},{"e":395.4,"v":3.1,"id":"lb","k":"base"},
{"e":404.9,"v":7.86,"id":"lgr","k":"gr"},{"e":404.4,"v":7.79,"id":"lgr","k":"gr"},{"e":404.0,"v":7.94,"id":"lgr","k":"gr"},{"e":403.6,"v":8.25,"id":"lgr","k":"gr"},{"e":403.2,"v":8.55,"id":"lgr","k":"gr"},{"e":402.8,"v":8.56,"id":"lgr","k":"gr"},{"e":402.4,"v":8.16,"id":"lgr","k":"gr"},{"e":402.0,"v":7.46,"id":"lgr","k":"gr"},{"e":401.6,"v":6.75,"id":"lgr","k":"gr"},{"e":401.2,"v":6.21,"id":"lgr","k":"gr"},{"e":400.4,"v":5.6,"id":"lgr","k":"gr"},
{"e":403.65,"v":7.27,"id":"lpy","k":"py"},{"e":402.9,"v":7.85,"id":"lpy","k":"py"},{"e":402.525,"v":9.13,"id":"lpy","k":"py"},{"e":402.15,"v":11.11,"id":"lpy","k":"py"},{"e":401.775,"v":13.06,"id":"lpy","k":"py"},{"e":401.4,"v":13.77,"id":"lpy","k":"py"},{"e":401.025,"v":12.68,"id":"lpy","k":"py"},{"e":400.65,"v":10.37,"id":"lpy","k":"py"},{"e":400.275,"v":8.01,"id":"lpy","k":"py"},{"e":399.9,"v":6.37,"id":"lpy","k":"py"},{"e":399.15,"v":5.05,"id":"lpy","k":"py"},
{"e":402.3,"v":6.64,"id":"lco","k":"co"},{"e":401.6,"v":7.62,"id":"lco","k":"co"},{"e":401.25,"v":9.47,"id":"lco","k":"co"},{"e":400.9,"v":12.31,"id":"lco","k":"co"},{"e":400.55,"v":15.09,"id":"lco","k":"co"},{"e":400.2,"v":16.18,"id":"lco","k":"co"},{"e":399.85,"v":14.74,"id":"lco","k":"co"},{"e":399.5,"v":11.62,"id":"lco","k":"co"},{"e":399.15,"v":8.43,"id":"lco","k":"co"},{"e":398.8,"v":6.23,"id":"lco","k":"co"},{"e":398.1,"v":4.56,"id":"lco","k":"co"},
{"e":400.6,"v":5.92,"id":"lpd","k":"pd"},{"e":399.95,"v":8.34,"id":"lpd","k":"pd"},{"e":399.625,"v":12.37,"id":"lpd","k":"pd"},{"e":399.3,"v":18.43,"id":"lpd","k":"pd"},{"e":398.975,"v":24.37,"id":"lpd","k":"pd"},{"e":398.65,"v":26.81,"id":"lpd","k":"pd"},{"e":398.325,"v":24.05,"id":"lpd","k":"pd"},{"e":398.0,"v":17.79,"id":"lpd","k":"pd"},{"e":397.675,"v":11.41,"id":"lpd","k":"pd"},{"e":397.35,"v":7.06,"id":"lpd","k":"pd"},{"e":396.7,"v":3.99,"id":"lpd","k":"pd"},
{"e":400.7,"v":5.88,"id":"lbn","k":"bn"},{"e":399.9,"v":7.29,"id":"lbn","k":"bn"},{"e":399.5,"v":9.84,"id":"lbn","k":"bn"},{"e":399.1,"v":13.72,"id":"lbn","k":"bn"},{"e":398.7,"v":17.54,"id":"lbn","k":"bn"},{"e":398.3,"v":19.04,"id":"lbn","k":"bn"},{"e":397.9,"v":17.14,"id":"lbn","k":"bn"},{"e":397.5,"v":12.93,"id":"lbn","k":"bn"},{"e":397.1,"v":8.65,"id":"lbn","k":"bn"},{"e":396.7,"v":5.7,"id":"lbn","k":"bn"},{"e":395.9,"v":3.51,"id":"lbn","k":"bn"},
{"e":404.9,"v":8.0,"id":"le","k":"env"},{"e":404.5,"v":8.1,"id":"le","k":"env"},{"e":404.0,"v":8.4,"id":"le","k":"env"},{"e":403.5,"v":8.9,"id":"le","k":"env"},{"e":403.0,"v":9.8,"id":"le","k":"env"},{"e":402.5,"v":11.3,"id":"le","k":"env"},{"e":402.0,"v":13.5,"id":"le","k":"env"},{"e":401.5,"v":16.3,"id":"le","k":"env"},{"e":401.0,"v":18.8,"id":"le","k":"env"},{"e":400.5,"v":20.3,"id":"le","k":"env"},{"e":400.0,"v":22.0,"id":"le","k":"env"},{"e":399.5,"v":27.5,"id":"le","k":"env"},{"e":399.0,"v":36.0,"id":"le","k":"env"},{"e":398.75,"v":40.0,"id":"le","k":"env"},{"e":398.5,"v":41.1,"id":"le","k":"env"},{"e":398.25,"v":39.5,"id":"le","k":"env"},{"e":398.0,"v":35.0,"id":"le","k":"env"},{"e":397.5,"v":23.5,"id":"le","k":"env"},{"e":397.0,"v":13.0,"id":"le","k":"env"},{"e":396.5,"v":7.0,"id":"le","k":"env"},{"e":396.0,"v":4.5,"id":"le","k":"env"},{"e":395.4,"v":3.5,"id":"le","k":"env"}
 ]},
 "encoding":{
  "x":{"field":"e","type":"quantitative","scale":{"domain":[395.4,404.9],"reverse":true,"nice":false,"zero":false},"axis":{"values":[396,398,400,402,404],"title":"Binding Energy (eV)"}},
  "y":{"field":"v","type":"quantitative","scale":{"domain":[0,100],"nice":false,"zero":false},"axis":{"title":"Intensity (a.u.)"}}
 },
 "layer":[
  {"transform":[{"filter":"datum.k!='env'"}],"mark":{"type":"line","interpolate":"monotone","strokeWidth":1.2,"clip":true},"encoding":{"color":{"field":"k","type":"nominal","scale":{"domain":["base","gr","py","co","pd","bn"],"range":["#dcdc10","#b4b030","#c8a232","#9a4e94","#a040f0","#2a2ae6"]},"legend":null},"detail":{"field":"id"}}},
  {"transform":[{"filter":"datum.k=='env'"}],"mark":{"type":"line","interpolate":"monotone","strokeWidth":2,"color":"#8b6b52","clip":true},"encoding":{"detail":{"field":"id"}}},
  {"data":{"values":[{"e":396.17,"v":93.3,"t":"N 1s"},{"e":397.42,"v":86.2,"t":"pyridinic-N"},{"e":400.85,"v":78.4,"t":"Co-N"},{"e":402.41,"v":72.0,"t":"pyrrolic-N"},{"e":404.02,"v":64.8,"t":"graphite-N"},{"e":398.82,"v":45.8,"t":"pyridinic-N"},{"e":400.55,"v":27.3,"t":"Co-N"},{"e":397.52,"v":19.7,"t":"B-N"},{"e":401.95,"v":19.0,"t":"pyrrolic-N"},{"e":403.87,"v":13.1,"t":"graphite-N"}]},
   "mark":{"type":"text","align":"center","baseline":"middle","fontSize":8.5,"fontWeight":"bold","font":"Open Sans","color":"black"},"encoding":{"text":{"field":"t"}}},
  {"data":{"values":[{"e":404.8,"v":53.0,"t":"Co/NC"},{"e":404.8,"v":4.5,"t":"Co/B₁₀₀NC"}]},
   "mark":{"type":"text","align":"left","baseline":"middle","fontSize":8.5,"fontWeight":"bold","font":"Open Sans","color":"black"},"encoding":{"text":{"field":"t"}}},
  {"data":{"values":[{"e":406.53,"v":92.1,"t":"c"}]},
   "mark":{"type":"text","align":"left","baseline":"alphabetic","fontSize":27,"fontWeight":"bold","font":"Liberation Sans","color":"black"},"encoding":{"text":{"field":"t"}}}
 ]
},
{
 "width":216,"height":140,
 "data":{"values":[
{"e":294.7,"v":56.5,"id":"ub","k":"base"},{"e":279.4,"v":53.0,"id":"ub","k":"base"},
{"e":294.7,"v":57.5,"id":"uco","k":"co"},{"e":293,"v":58.0,"id":"uco","k":"co"},{"e":291,"v":58.6,"id":"uco","k":"co"},{"e":289.5,"v":59.2,"id":"uco","k":"co"},{"e":288.5,"v":59.4,"id":"uco","k":"co"},{"e":287.5,"v":59.0,"id":"uco","k":"co"},{"e":286.5,"v":57.8,"id":"uco","k":"co"},{"e":285.5,"v":56.2,"id":"uco","k":"co"},{"e":284.5,"v":54.9,"id":"uco","k":"co"},{"e":283.5,"v":54.0,"id":"uco","k":"co"},{"e":282.5,"v":53.7,"id":"uco","k":"co"},{"e":280,"v":53.2,"id":"uco","k":"co"},{"e":279.4,"v":53.1,"id":"uco","k":"co"},
{"e":289.2,"v":55.38,"id":"ucn","k":"cn"},{"e":288.1,"v":56.74,"id":"ucn","k":"cn"},{"e":287.55,"v":59.06,"id":"ucn","k":"cn"},{"e":287.0,"v":62.56,"id":"ucn","k":"cn"},{"e":286.45,"v":65.99,"id":"ucn","k":"cn"},{"e":285.9,"v":67.39,"id":"ucn","k":"cn"},{"e":285.35,"v":65.74,"id":"ucn","k":"cn"},{"e":284.8,"v":62.06,"id":"ucn","k":"cn"},{"e":284.25,"v":58.3,"id":"ucn","k":"cn"},{"e":283.7,"v":55.73,"id":"ucn","k":"cn"},{"e":282.6,"v":53.87,"id":"ucn","k":"cn"},
{"e":286.55,"v":55.0,"id":"ucc","k":"cc"},{"e":285.95,"v":58.86,"id":"ucc","k":"cc"},{"e":285.65,"v":64.89,"id":"ucc","k":"cc"},{"e":285.35,"v":73.89,"id":"ucc","k":"cc"},{"e":285.05,"v":82.71,"id":"ucc","k":"cc"},{"e":284.9,"v":85.46,"id":"ucc","k":"cc"},{"e":284.75,"v":86.43,"id":"ucc","k":"cc"},{"e":284.6,"v":85.39,"id":"ucc","k":"cc"},{"e":284.45,"v":82.58,"id":"ucc","k":"cc"},{"e":284.15,"v":73.62,"id":"ucc","k":"cc"},{"e":283.85,"v":64.48,"id":"ucc","k":"cc"},{"e":283.55,"v":58.31,"id":"ucc","k":"cc"},{"e":282.95,"v":54.17,"id":"ucc","k":"cc"},
{"e":294.7,"v":57.7,"id":"ue","k":"env"},{"e":293,"v":58.1,"id":"ue","k":"env"},{"e":291,"v":58.8,"id":"ue","k":"env"},{"e":290,"v":59.5,"id":"ue","k":"env"},{"e":289,"v":60.4,"id":"ue","k":"env"},{"e":288.5,"v":61.2,"id":"ue","k":"env"},{"e":288,"v":62.5,"id":"ue","k":"env"},{"e":287.5,"v":65.0,"id":"ue","k":"env"},{"e":287,"v":68.4,"id":"ue","k":"env"},{"e":286.5,"v":71.5,"id":"ue","k":"env"},{"e":286,"v":74.3,"id":"ue","k":"env"},{"e":285.75,"v":77.0,"id":"ue","k":"env"},{"e":285.5,"v":81.5,"id":"ue","k":"env"},{"e":285.25,"v":86.5,"id":"ue","k":"env"},{"e":285,"v":91.0,"id":"ue","k":"env"},{"e":284.85,"v":93.8,"id":"ue","k":"env"},{"e":284.7,"v":95.2,"id":"ue","k":"env"},{"e":284.4,"v":93.5,"id":"ue","k":"env"},{"e":284.1,"v":88.0,"id":"ue","k":"env"},{"e":283.8,"v":80.0,"id":"ue","k":"env"},{"e":283.5,"v":70.0,"id":"ue","k":"env"},{"e":283.2,"v":61.5,"id":"ue","k":"env"},{"e":283,"v":57.5,"id":"ue","k":"env"},{"e":282.7,"v":55.0,"id":"ue","k":"env"},{"e":282.3,"v":54.0,"id":"ue","k":"env"},{"e":282,"v":53.7,"id":"ue","k":"env"},{"e":281,"v":53.4,"id":"ue","k":"env"},{"e":280,"v":53.15,"id":"ue","k":"env"},{"e":279.4,"v":53.0,"id":"ue","k":"env"},
{"e":294.7,"v":3.8,"id":"lb","k":"base"},{"e":279.4,"v":1.4,"id":"lb","k":"base"},
{"e":294.7,"v":4.5,"id":"lco","k":"co"},{"e":293,"v":5.2,"id":"lco","k":"co"},{"e":291,"v":6.5,"id":"lco","k":"co"},{"e":290,"v":7.6,"id":"lco","k":"co"},{"e":289,"v":8.6,"id":"lco","k":"co"},{"e":288.5,"v":9.0,"id":"lco","k":"co"},{"e":288,"v":8.9,"id":"lco","k":"co"},{"e":287.5,"v":8.3,"id":"lco","k":"co"},{"e":287,"v":7.2,"id":"lco","k":"co"},{"e":286.5,"v":6.0,"id":"lco","k":"co"},{"e":286,"v":4.8,"id":"lco","k":"co"},{"e":285.5,"v":3.8,"id":"lco","k":"co"},{"e":285,"v":3.0,"id":"lco","k":"co"},{"e":284.5,"v":2.5,"id":"lco","k":"co"},{"e":284,"v":2.2,"id":"lco","k":"co"},{"e":283,"v":1.97,"id":"lco","k":"co"},{"e":281,"v":1.7,"id":"lco","k":"co"},{"e":279.4,"v":1.5,"id":"lco","k":"co"},
{"e":288.9,"v":3.02,"id":"lcn","k":"cn"},{"e":287.9,"v":4.26,"id":"lcn","k":"cn"},{"e":287.4,"v":6.33,"id":"lcn","k":"cn"},{"e":286.9,"v":9.43,"id":"lcn","k":"cn"},{"e":286.4,"v":12.47,"id":"lcn","k":"cn"},{"e":285.9,"v":13.72,"id":"lcn","k":"cn"},{"e":285.4,"v":12.31,"id":"lcn","k":"cn"},{"e":284.9,"v":9.11,"id":"lcn","k":"cn"},{"e":284.4,"v":5.85,"id":"lcn","k":"cn"},{"e":283.9,"v":3.64,"id":"lcn","k":"cn"},{"e":282.9,"v":2.08,"id":"lcn","k":"cn"},
{"e":287.15,"v":2.85,"id":"lcc","k":"cc"},{"e":286.4,"v":5.34,"id":"lcc","k":"cc"},{"e":286.025,"v":9.26,"id":"lcc","k":"cc"},{"e":285.65,"v":15.12,"id":"lcc","k":"cc"},{"e":285.275,"v":20.85,"id":"lcc","k":"cc"},{"e":284.9,"v":23.26,"id":"lcc","k":"cc"},{"e":284.525,"v":20.73,"id":"lcc","k":"cc"},{"e":284.15,"v":14.89,"id":"lcc","k":"cc"},{"e":283.775,"v":8.91,"id":"lcc","k":"cc"},{"e":283.4,"v":4.87,"id":"lcc","k":"cc"},{"e":282.65,"v":2.14,"id":"lcc","k":"cc"},
{"e":286.25,"v":2.65,"id":"lcb","k":"cb"},{"e":285.65,"v":4.45,"id":"lcb","k":"cb"},{"e":285.35,"v":7.3,"id":"lcb","k":"cb"},{"e":285.05,"v":11.57,"id":"lcb","k":"cb"},{"e":284.75,"v":15.74,"id":"lcb","k":"cb"},{"e":284.45,"v":17.49,"id":"lcb","k":"cb"},{"e":284.15,"v":15.65,"id":"lcb","k":"cb"},{"e":283.85,"v":11.38,"id":"lcb","k":"cb"},{"e":283.55,"v":7.02,"id":"lcb","k":"cb"},{"e":283.25,"v":4.07,"id":"lcb","k":"cb"},{"e":282.65,"v":2.08,"id":"lcb","k":"cb"},
{"e":294.7,"v":4.6,"id":"le","k":"env"},{"e":293,"v":5.4,"id":"le","k":"env"},{"e":291,"v":6.8,"id":"le","k":"env"},{"e":290,"v":7.9,"id":"le","k":"env"},{"e":289,"v":9.0,"id":"le","k":"env"},{"e":288.5,"v":9.6,"id":"le","k":"env"},{"e":288,"v":10.5,"id":"le","k":"env"},{"e":287.5,"v":12.2,"id":"le","k":"env"},{"e":287,"v":14.8,"id":"le","k":"env"},{"e":286.5,"v":18.5,"id":"le","k":"env"},{"e":286,"v":23.0,"id":"le","k":"env"},{"e":285.5,"v":30.0,"id":"le","k":"env"},{"e":285.25,"v":34.5,"id":"le","k":"env"},{"e":285,"v":38.5,"id":"le","k":"env"},{"e":284.8,"v":41.5,"id":"le","k":"env"},{"e":284.65,"v":42.3,"id":"le","k":"env"},{"e":284.45,"v":41.3,"id":"le","k":"env"},{"e":284.2,"v":37.5,"id":"le","k":"env"},{"e":284,"v":33.0,"id":"le","k":"env"},{"e":283.75,"v":26.5,"id":"le","k":"env"},{"e":283.5,"v":19.5,"id":"le","k":"env"},{"e":283.25,"v":13.0,"id":"le","k":"env"},{"e":283,"v":8.0,"id":"le","k":"env"},{"e":282.75,"v":5.0,"id":"le","k":"env"},{"e":282.5,"v":3.5,"id":"le","k":"env"},{"e":282,"v":2.6,"id":"le","k":"env"},{"e":281,"v":2.1,"id":"le","k":"env"},{"e":280,"v":1.9,"id":"le","k":"env"},{"e":279.4,"v":1.8,"id":"le","k":"env"}
 ]},
 "encoding":{
  "x":{"field":"e","type":"quantitative","scale":{"domain":[279.4,294.7],"reverse":true,"nice":false,"zero":false},"axis":{"values":[280,282,284,286,288,290,292,294],"title":"Binding Energy (eV)"}},
  "y":{"field":"v","type":"quantitative","scale":{"domain":[0,100],"nice":false,"zero":false},"axis":{"title":"Intensity (a.u.)"}}
 },
 "layer":[
  {"transform":[{"filter":"datum.k!='env'"}],"mark":{"type":"line","interpolate":"monotone","strokeWidth":1.2,"clip":true},"encoding":{"color":{"field":"k","type":"nominal","scale":{"domain":["base","co","cn","cc","cb"],"range":["#4646f0","#e6e600","#7dc242","#a040f0","#1f1fe6"]},"legend":null},"detail":{"field":"id"}}},
  {"transform":[{"filter":"datum.k=='env'"}],"mark":{"type":"line","interpolate":"monotone","strokeWidth":2,"color":"#8b6b52","clip":true},"encoding":{"detail":{"field":"id"}}},
  {"data":{"values":[{"e":280.7,"v":93.3,"t":"C 1s"},{"e":283.1,"v":86.2,"t":"C-C"},{"e":286.6,"v":75.0,"t":"C-N"},{"e":289.3,"v":66.5,"t":"C-O"},{"e":282.9,"v":35.2,"t":"C-C"},{"e":286.6,"v":20.2,"t":"C-N"},{"e":288.85,"v":13.1,"t":"C-O"},{"e":282.35,"v":13.1,"t":"C-B"}]},
   "mark":{"type":"text","align":"center","baseline":"middle","fontSize":8.5,"fontWeight":"bold","font":"Open Sans","color":"black"},"encoding":{"text":{"field":"t"}}},
  {"data":{"values":[{"e":294.4,"v":49.4,"t":"Co/NC"},{"e":294.4,"v":4.5,"t":"Co/B₁₀₀NC"}]},
   "mark":{"type":"text","align":"left","baseline":"middle","fontSize":8.5,"fontWeight":"bold","font":"Open Sans","color":"black"},"encoding":{"text":{"field":"t"}}},
  {"data":{"values":[{"e":297.96,"v":92.1,"t":"d"}]},
   "mark":{"type":"text","align":"left","baseline":"alphabetic","fontSize":27,"fontWeight":"bold","font":"Liberation Sans","color":"black"},"encoding":{"text":{"field":"t"}}}
 ]
}
]
}
